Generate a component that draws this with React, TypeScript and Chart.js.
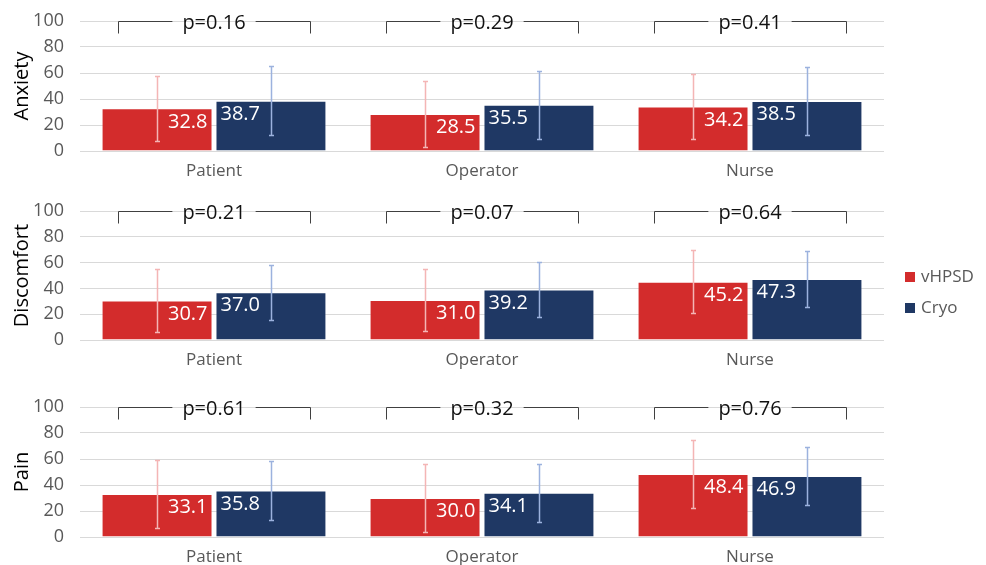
import React, { useEffect, useRef } from "react";
import { Chart, registerables } from "chart.js";

Chart.register(...registerables);

const FONT = "'Open Sans', 'Noto Sans', sans-serif";

const categories = ["Patient", "Operator", "Nurse"];
const seriesNames = ["vHPSD", "Cryo"];
const yTickValues = [0, 20, 40, 60, 80, 100];

const anxietyVhpsd = [32.8, 28.5, 34.2];
const anxietyCryo = [38.7, 35.5, 38.5];
const anxietyVhpsdSD = [25.0, 25.4, 25.3];
const anxietyCryoSD = [26.4, 26.4, 26.4];
const anxietyP = ["p=0.16", "p=0.29", "p=0.41"];

const discomfortVhpsd = [30.7, 31.0, 45.2];
const discomfortCryo = [37.0, 39.2, 47.3];
const discomfortVhpsdSD = [24.3, 24.4, 24.6];
const discomfortCryoSD = [21.4, 21.4, 21.4];
const discomfortP = ["p=0.21", "p=0.07", "p=0.64"];

const painVhpsd = [33.1, 30.0, 48.4];
const painCryo = [35.8, 34.1, 46.9];
const painVhpsdSD = [25.9, 26.0, 26.0];
const painCryoSD = [22.4, 22.2, 22.4];
const painP = ["p=0.61", "p=0.32", "p=0.76"];

const RED = "#D32C2C";
const NAVY = "#1F3864";
const RED_ERR = "#F4B5B5";
const NAVY_ERR = "#9CB2DE";
const BRACKET_TOP = 100;
const BRACKET_BOTTOM = 91;

const overlayPlugin = {
  id: "overlay",
  afterDatasetsDraw(chart: any, _args: any, opts: any) {
    const ctx = chart.ctx;
    const xs = chart.scales.x;
    const ys = chart.scales.y;
    const sds: number[][] = opts.sds;
    const errColors: string[] = opts.errColors;
    ctx.save();
    // error bars
    chart.data.datasets.forEach((ds: any, di: number) => {
      const meta = chart.getDatasetMeta(di);
      meta.data.forEach((bar: any, i: number) => {
        const v = ds.data[i];
        const sd = sds[di][i];
        const yt = Math.round(ys.getPixelForValue(v + sd)) + 0.5;
        const yb = Math.round(ys.getPixelForValue(v - sd)) + 0.5;
        const cx = Math.round(bar.x) + 0.5;
        ctx.strokeStyle = errColors[di];
        ctx.lineWidth = 1.5;
        ctx.beginPath();
        ctx.moveTo(cx, yt);
        ctx.lineTo(cx, yb);
        ctx.moveTo(cx - 2.5, yt);
        ctx.lineTo(cx + 2.5, yt);
        ctx.moveTo(cx - 2.5, yb);
        ctx.lineTo(cx + 2.5, yb);
        ctx.stroke();
      });
    });
    // value labels
    ctx.font = `20px ${FONT}`;
    ctx.fillStyle = "#FFFFFF";
    ctx.textBaseline = "middle";
    chart.data.datasets.forEach((ds: any, di: number) => {
      const meta = chart.getDatasetMeta(di);
      meta.data.forEach((bar: any, i: number) => {
        const v = ds.data[i];
        const half = bar.width / 2;
        const ty = bar.y + 13.5;
        const txt = v.toFixed(1);
        if (di === 0) {
          ctx.textAlign = "right";
          ctx.fillText(txt, bar.x + half - 5, ty);
        } else {
          ctx.textAlign = "left";
          ctx.fillText(txt, bar.x - half + 5, ty);
        }
      });
    });
    // p-value brackets
    const catW = xs.getPixelForValue(1) - xs.getPixelForValue(0);
    const pvals: string[] = opts.pvals;
    ctx.font = `20px ${FONT}`;
    ctx.textAlign = "center";
    ctx.textBaseline = "middle";
    pvals.forEach((p, i) => {
      const cx = xs.getPixelForValue(i);
      const hw = catW * 0.358;
      const yl = Math.round(ys.getPixelForValue(BRACKET_TOP)) + 0.5;
      const yb = Math.round(ys.getPixelForValue(BRACKET_BOTTOM)) + 0.5;
      const tw = ctx.measureText(p).width;
      const gap = 10;
      const l = Math.round(cx - hw) + 0.5;
      const r = Math.round(cx + hw) + 0.5;
      ctx.strokeStyle = "#404040";
      ctx.lineWidth = 1;
      ctx.beginPath();
      ctx.moveTo(l, yb);
      ctx.lineTo(l, yl);
      ctx.lineTo(cx - tw / 2 - gap, yl);
      ctx.moveTo(cx + tw / 2 + gap, yl);
      ctx.lineTo(r, yl);
      ctx.lineTo(r, yb);
      ctx.stroke();
      ctx.fillStyle = "#111111";
      ctx.fillText(p, cx, yl + 2);
    });
    ctx.restore();
  },
};

const legendPlugin = {
  id: "sideLegend",
  afterDraw(chart: any, _args: any, opts: any) {
    if (!opts.show) return;
    const ctx = chart.ctx;
    const area = chart.chartArea;
    const x = area.right + 21;
    const y0 = area.top + 66;
    const colors = [RED, NAVY];
    ctx.save();
    ctx.font = `17px ${FONT}`;
    ctx.textAlign = "left";
    ctx.textBaseline = "middle";
    seriesNames.forEach((name, i) => {
      const y = y0 + i * 31;
      ctx.fillStyle = colors[i];
      ctx.fillRect(x, y - 5, 10, 10);
      ctx.fillStyle = "#595959";
      ctx.fillText(name, x + 16, y);
    });
    ctx.restore();
  },
};

type PanelProps = {
  top: number;
  height: number;
  padTop: number;
  title: string;
  vh: number[];
  cr: number[];
  vhSD: number[];
  crSD: number[];
  pvals: string[];
  showLegend?: boolean;
};

function Panel(props: PanelProps) {
  const ref = useRef<HTMLCanvasElement>(null);
  useEffect(() => {
    const chart = new Chart(ref.current as HTMLCanvasElement, {
      type: "bar",
      data: {
        labels: categories,
        datasets: [
          {
            label: seriesNames[0],
            data: props.vh,
            backgroundColor: RED,
            borderColor: "rgba(255,255,255,0.3)",
            borderWidth: 1,
            categoryPercentage: 0.85,
            barPercentage: 0.974,
          },
          {
            label: seriesNames[1],
            data: props.cr,
            backgroundColor: NAVY,
            borderColor: "rgba(255,255,255,0.3)",
            borderWidth: 1,
            categoryPercentage: 0.85,
            barPercentage: 0.974,
          },
        ],
      },
      options: {
        animation: false,
        responsive: false,
        layout: { padding: { top: props.padTop, right: 102, left: 0, bottom: 0 } },
        plugins: {
          legend: { display: false },
          tooltip: { enabled: false },
          overlay: {
            sds: [props.vhSD, props.crSD],
            errColors: [RED_ERR, NAVY_ERR],
            pvals: props.pvals,
          },
          sideLegend: { show: !!props.showLegend },
        } as any,
        scales: {
          x: {
            type: "category",
            grid: { display: false, drawTicks: false },
            border: { display: false },
            ticks: { color: "#595959", font: { family: FONT, size: 17 }, padding: 10 },
            afterFit: (s: any) => {
              s.height = 40;
              s.paddingLeft = 0;
              s.paddingRight = 0;
            },
          },
          y: {
            min: 0,
            max: 100,
            afterBuildTicks: (s: any) => {
              s.ticks = yTickValues.map((v) => ({ value: v }));
            },
            ticks: { color: "#595959", font: { family: FONT, size: 18 }, padding: 16 },
            grid: { color: "#D9D9D9", drawTicks: false, lineWidth: 1 },
            border: { display: false },
            title: {
              display: true,
              text: props.title,
              color: "#000000",
              font: { family: FONT, size: 20 },
              padding: { top: 10, bottom: 0 },
            },
            afterFit: (s: any) => {
              s.width = 80;
              s.paddingTop = 0;
              s.paddingBottom = 0;
            },
          },
        },
      } as any,
      plugins: [overlayPlugin, legendPlugin],
    });
    return () => chart.destroy();
  }, []);
  return (
    <div style={{ position: "absolute", left: 0, top: props.top, width: 986, height: props.height }}>
      <canvas ref={ref} width={986} height={props.height} />
    </div>
  );
}

export default function App() {
  return (
    <div
      style={{
        position: "fixed",
        left: 0,
        top: 0,
        width: 986,
        height: 565,
        overflow: "hidden",
        background: "#FFFFFF",
      }}
    >
      <Panel top={0} height={191} padTop={21} title="Anxiety" vh={anxietyVhpsd} cr={anxietyCryo} vhSD={anxietyVhpsdSD} crSD={anxietyCryoSD} pvals={anxietyP} />
      <Panel top={190} height={190} padTop={21} title="Discomfort" vh={discomfortVhpsd} cr={discomfortCryo} vhSD={discomfortVhpsdSD} crSD={discomfortCryoSD} pvals={discomfortP} showLegend />
      <Panel top={380} height={197} padTop={27} title="Pain" vh={painVhpsd} cr={painCryo} vhSD={painVhpsdSD} crSD={painCryoSD} pvals={painP} />
    </div>
  );
}
